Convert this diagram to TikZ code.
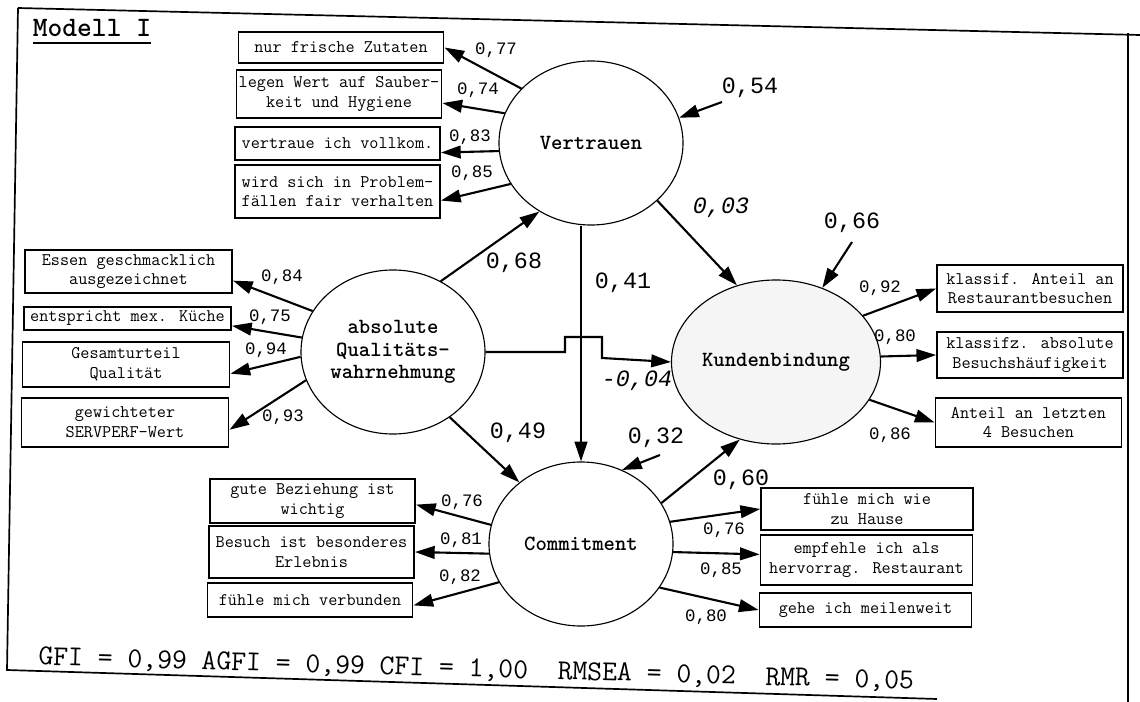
\documentclass[tikz,border=0pt]{standalone}
\usepackage{fontspec}
\newfontfamily\zahl{Liberation Mono}
\usetikzlibrary{arrows.meta,shapes.geometric}

\begin{document}
\begin{tikzpicture}[x=0.025cm,y=-0.025cm,
    latent/.style={draw,ellipse,line width=0.8pt,minimum width=4.6cm,minimum height=4.1cm,inner sep=0pt,align=center,font=\ttfamily\bfseries\fontsize{15.4}{16}\selectfont},
    item/.style={draw,rectangle,line width=1.2pt,minimum width=5.13cm,inner sep=1pt,align=center,font=\ttfamily\fontsize{12.6}{14}\selectfont},
    pfeil/.style={line width=1.5pt,-{Triangle[length=14pt,width=9pt]}},
    ladung/.style={font=\zahl\fontsize{12.4}{14}\selectfont},
    pfad/.style={font=\zahl\fontsize{16.6}{18}\selectfont}]
  \useasboundingbox (0,0) rectangle (1140,702);
  % Rahmen
  \draw[line width=1.2pt] (18,8) -- (1140,35);
  \draw[line width=1.2pt] (18,8) -- (7,670) -- (937,699);
  \draw[line width=1.2pt] (1128,33) -- (1128,702);
  \node[font=\ttfamily\bfseries\fontsize{20}{22}\selectfont,inner sep=0pt,anchor=base] (titel) at (92,37) {Modell I};
  \draw[line width=1.4pt] ([yshift=-4.3pt]titel.base west) -- ([yshift=-4.3pt]titel.base east);

  % latente Variablen
  \node[latent] (ver) at (591,143) {Vertrauen};
  \node[latent] (qual) at (393,352) {absolute\\Qualitäts-\\wahrnehmung};
  \node[latent,fill=black!4] (kun) at (776,362) {Kundenbindung};
  \node[latent] (com) at (581,544) {Commitment};

  % Indikatoren
  \node[item,minimum height=0.78cm] (v1) at (341,47.5) {nur frische Zutaten};
  \node[item,minimum height=1.2cm] (v2) at (339,94) {legen Wert auf Sauber-\\keit und Hygiene};
  \node[item,minimum height=0.82cm] (v3) at (337.5,143.5) {vertraue ich vollkom.};
  \node[item,minimum height=1.32cm] (v4) at (337.5,191.5) {wird sich in Problem-\\fällen fair verhalten};

  \node[item,minimum width=5.18cm,minimum height=1.08cm] (q1) at (128.5,271.5) {Essen geschmacklich\\ausgezeichnet};
  \node[item,minimum width=5.18cm,minimum height=0.58cm] (q2) at (127.5,318.5) {entspricht mex. Küche};
  \node[item,minimum width=5.18cm,minimum height=1.12cm] (q3) at (126,364.5) {Gesamturteil\\Qualität};
  \node[item,minimum width=5.18cm,minimum height=1.22cm] (q4) at (125,422.5) {gewichteter\\SERVPERF-Wert};

  \node[item,minimum width=4.65cm,minimum height=1.18cm] (k1) at (1030,288.5) {klassif. Anteil an\\Restaurantbesuchen};
  \node[item,minimum width=4.65cm,minimum height=1.15cm] (k2) at (1030,355) {klassifz. absolute\\Besuchshäufigkeit};
  \node[item,minimum width=4.65cm,minimum height=1.22cm] (k3) at (1028.5,422.5) {Anteil an letzten\\4 Besuchen};

  \node[item,minimum height=1.1cm] (c1) at (312.5,501) {gute Beziehung ist\\wichtig};
  \node[item,minimum height=1.3cm] (c2) at (311.5,552) {Besuch ist besonderes\\Erlebnis};
  \node[item,minimum height=0.85cm] (c3) at (310,600) {fühle mich verbunden};

  \node[item,minimum width=5.3cm,minimum height=1.05cm] (r1) at (867,509) {fühle mich wie\\zu Hause};
  \node[item,minimum width=5.3cm,minimum height=1.25cm] (r2) at (866.5,560) {empfehle ich als\\hervorrag. Restaurant};
  \node[item,minimum width=5.3cm,minimum height=0.85cm] (r3) at (865.5,610) {gehe ich meilenweit};

  % Messmodell
  \draw[pfeil] (ver.142) -- (v1.east);
  \draw[pfeil] (ver.161) -- (v2.-5);
  \draw[pfeil] (ver.185) -- (v3.-5);
  \draw[pfeil] (ver.207) -- (v4.-5);
  \draw[pfeil] (qual.153) -- (q1.-5);
  \draw[pfeil] (qual.171) -- (q2.-4);
  \draw[pfeil] (qual.183) -- (q3.-5);
  \draw[pfeil] (qual.198) -- (q4.-4);
  \draw[pfeil] (kun.28) -- (k1.west);
  \draw[pfeil] (kun.3) -- (k2.west);
  \draw[pfeil] (kun.-22) -- (k3.west);
  \draw[pfeil] (com.168) -- (c1.-2);
  \draw[pfeil] (com.186) -- (c2.east);
  \draw[pfeil] (com.205) -- (c3.-3);
  \draw[pfeil] (com.14) -- (r1.west);
  \draw[pfeil] (com.-5) -- (r2.177);
  \draw[pfeil] (com.-29) -- (r3.west);

  \node[ladung] (l1) at (496,50) {0,77};
  \node[ladung] (l2) at (478,90) {0,74};
  \node[ladung] (l3) at (470,137) {0,83};
  \node[ladung] (l4) at (472,173) {0,85};
  \node[ladung] (l5) at (282,277) {0,84};
  \node[ladung] (l6) at (270,317) {0,75};
  \node[ladung] (l7) at (266,350) {0,94};
  \node[ladung] (l8) at (283,417) {0,93};
  \node[ladung] (l9) at (880,288) {0,92};
  \node[ladung] (l10) at (895,337) {0,80};
  \node[ladung] (l11) at (890,435) {0,86};
  \node[ladung] (l12) at (462,502) {0,76};
  \node[ladung] (l13) at (461,540) {0,81};
  \node[ladung] (l14) at (460,577) {0,82};
  \node[ladung] (l15) at (724,530) {0,76};
  \node[ladung] (l16) at (721,570) {0,85};
  \node[ladung] (l17) at (706,617) {0,80};

  % Strukturmodell
  \coordinate (e54) at (722,102);
  \coordinate (e66) at (852,242);
  \coordinate (e32) at (660,455);
  \draw[pfeil] (e54) -- (ver.16);
  \draw[pfeil] (e66) -- (kun.58);
  \draw[pfeil] (e32) -- (com.61);
  \draw[pfeil] (qual.56) -- (ver.233);
  \draw[pfeil] (ver.-41) -- (kun.117);
  \draw[pfeil] (com.north |- ver.south) -- (com.north);
  \draw[pfeil] (qual.311) -- (com.135);
  \draw[pfeil] (com.27) -- (kun.245);
  \draw[pfeil] (qual.east) -- (565,352) -- (565,337) -- (602,337) -- (602,358) -- (kun.west);

  \node[pfad] (p54) at (750,88) {0,54};
  \node[pfad,font=\zahl\itshape\fontsize{16.6}{18}\selectfont] (p03) at (721,208) {0,03};
  \node[pfad] (p66) at (852,223) {0,66};
  \node[pfad] (p68) at (514,263) {0,68};
  \node[pfad] (p41) at (623,283) {0,41};
  \node[pfad,font=\zahl\itshape\fontsize{16.6}{18}\selectfont] (p04) at (637,381) {-0,04};
  \node[pfad] (p49) at (518,433) {0,49};
  \node[pfad] (p32) at (656,438) {0,32};
  \node[pfad] (p60) at (741,480) {0,60};

  % Guetemasse
  \node[font=\ttfamily\fontsize{20.5}{24}\selectfont,rotate=-1.6,anchor=base] (guete) at (476,677) {GFI = 0,99 AGFI = 0,99 CFI = 1,00\ \ RMSEA = 0,02\ \ RMR = 0,05};
\end{tikzpicture}
\end{document}
